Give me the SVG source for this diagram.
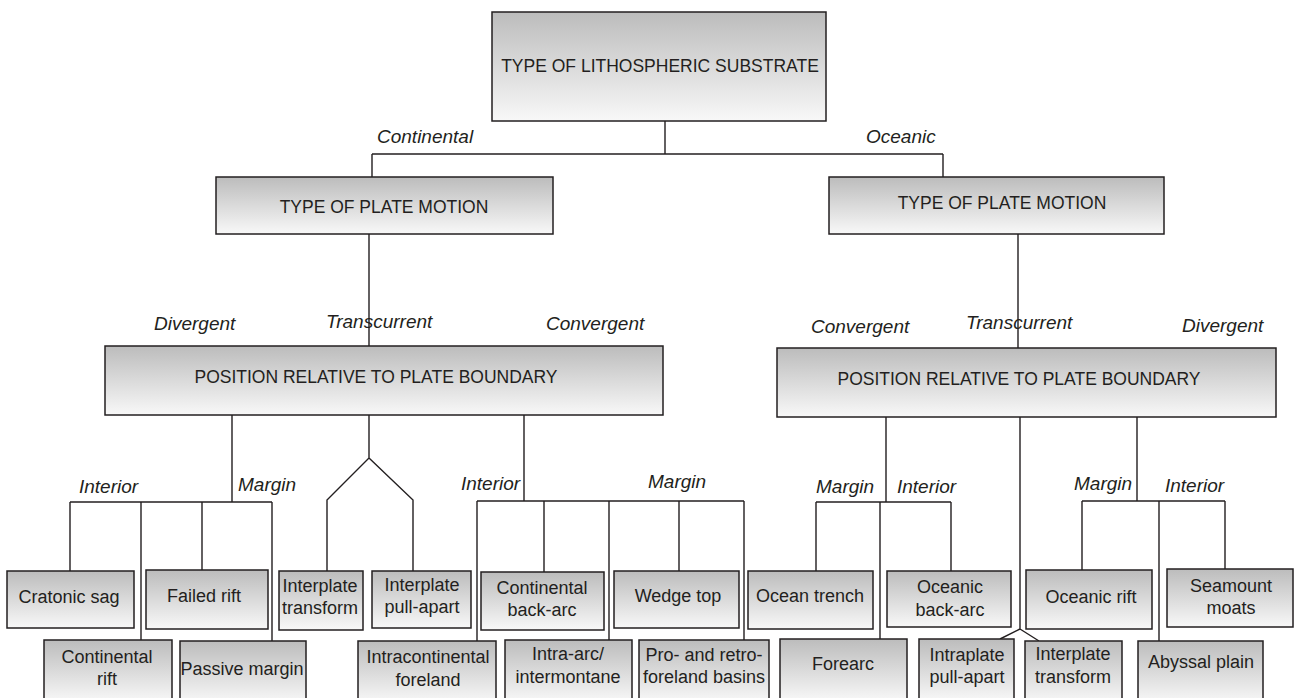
<svg xmlns="http://www.w3.org/2000/svg" width="1296" height="698" viewBox="0 0 1296 698">
<defs>
<linearGradient id="g" x1="0" y1="0" x2="0" y2="1">
<stop offset="0" stop-color="#bcbcbc"/>
<stop offset="1" stop-color="#f8f8f8"/>
</linearGradient>
</defs>
<style>
.b{fill:url(#g);stroke:#231f20;stroke-width:1.5}
.t{font-family:"Liberation Sans",Arial,sans-serif;font-size:17.5px;fill:#231f20;text-anchor:middle}
.n{font-family:"Liberation Sans",Arial,sans-serif;font-size:18px;fill:#231f20;text-anchor:middle}
.l{font-family:"Liberation Sans",Arial,sans-serif;font-size:19px;font-style:italic;fill:#231f20}
.c{fill:none;stroke:#231f20;stroke-width:1.4}
</style>
<rect width="1296" height="698" fill="#fff"/>
<g id="connectors" class="c">
<path d="M665,121V154M372,154H943M372,154V177M943,154V177"/>
<path d="M369,234V346M1018,234V348"/>
<path d="M232,415V502M70,502H272M70,502V571M141,502V640M202,502V570M272,502V641"/>
<path d="M369,415V458L327,500V571M369,458L413,500V571"/>
<path d="M524,415V501M477,501H744M477,501V641M544,501V572M609,501V640M679,501V571M744,501V640"/>
<path d="M886,417V502M816,502H951M816,502V571M880,502V639M951,502V571"/>
<path d="M1020,417V629L1000,639M1020,629L1039,641"/>
<path d="M1137,417V501M1082,501H1225M1082,501V570M1159,501V641M1225,501V569"/>
</g>
<g id="labels" class="l">
<text x="377" y="143">Continental</text>
<text x="866" y="143">Oceanic</text>
<text x="154" y="330">Divergent</text>
<text x="326" y="328">Transcurrent</text>
<text x="546" y="330">Convergent</text>
<text x="79" y="493">Interior</text>
<text x="238" y="491">Margin</text>
<text x="461" y="490">Interior</text>
<text x="648" y="488">Margin</text>
<text x="811" y="333">Convergent</text>
<text x="966" y="329">Transcurrent</text>
<text x="1182" y="332">Divergent</text>
<text x="816" y="493">Margin</text>
<text x="897" y="493">Interior</text>
<text x="1074" y="490">Margin</text>
<text x="1165" y="492">Interior</text>
</g>
<g id="top"><rect class="b" x="492" y="12" width="334" height="109"/><text class="t" x="660" y="72">TYPE OF LITHOSPHERIC SUBSTRATE</text></g>
<g id="tpmL"><rect class="b" x="216" y="177" width="337" height="57"/><text class="t" x="384" y="213">TYPE OF PLATE MOTION</text></g>
<g id="tpmR"><rect class="b" x="829" y="177" width="335" height="57"/><text class="t" x="1002" y="209">TYPE OF PLATE MOTION</text></g>
<g id="prbL"><rect class="b" x="105" y="346" width="558" height="69"/><text class="t" x="376" y="383">POSITION RELATIVE TO PLATE BOUNDARY</text></g>
<g id="prbR"><rect class="b" x="777" y="348" width="499" height="69"/><text class="t" x="1019" y="385">POSITION RELATIVE TO PLATE BOUNDARY</text></g>
<g id="cratonic"><rect class="b" x="7" y="571" width="127" height="57"/><text class="n" x="69" y="603">Cratonic sag</text></g>
<g id="failedRift"><rect class="b" x="146" y="570" width="122" height="59"/><text class="n" x="204" y="602">Failed rift</text></g>
<g id="contRift"><rect class="b" x="44" y="640" width="128" height="62"/><text class="n" x="107" y="663">Continental</text><text class="n" x="107" y="685">rift</text></g>
<g id="passive"><rect class="b" x="180" y="641" width="126" height="62"/><text class="n" x="242" y="675">Passive margin</text></g>
<g id="ipTransformL"><rect class="b" x="279" y="571" width="84" height="59"/><text class="n" x="320" y="592">Interplate</text><text class="n" x="320" y="614">transform</text></g>
<g id="ipPullApartL"><rect class="b" x="372" y="571" width="99" height="57"/><text class="n" x="422" y="591">Interplate</text><text class="n" x="422" y="613">pull-apart</text></g>
<g id="intracont"><rect class="b" x="358" y="641" width="138" height="62"/><text class="n" x="428" y="663">Intracontinental</text><text class="n" x="428" y="686">foreland</text></g>
<g id="contBackArc"><rect class="b" x="481" y="572" width="123" height="58"/><text class="n" x="542" y="594">Continental</text><text class="n" x="542" y="616">back-arc</text></g>
<g id="wedge"><rect class="b" x="614" y="571" width="125" height="57"/><text class="n" x="678" y="602">Wedge top</text></g>
<g id="intraArc"><rect class="b" x="505" y="640" width="127" height="62"/><text class="n" x="568" y="660">Intra-arc/</text><text class="n" x="568" y="683">intermontane</text></g>
<g id="proRetro"><rect class="b" x="639" y="640" width="130" height="62"/><text class="n" x="704" y="661">Pro- and retro-</text><text class="n" x="704" y="683">foreland basins</text></g>
<g id="oceanTrench"><rect class="b" x="748" y="571" width="125" height="58"/><text class="n" x="810" y="602">Ocean trench</text></g>
<g id="oceanicBackArc"><rect class="b" x="887" y="571" width="124" height="56"/><text class="n" x="950" y="593">Oceanic</text><text class="n" x="950" y="616">back-arc</text></g>
<g id="forearc"><rect class="b" x="780" y="639" width="127" height="62"/><text class="n" x="843" y="670">Forearc</text></g>
<g id="intraplatePA"><rect class="b" x="919" y="639" width="95" height="62"/><text class="n" x="967" y="661">Intraplate</text><text class="n" x="967" y="683">pull-apart</text></g>
<g id="ipTransformR"><rect class="b" x="1025" y="641" width="97" height="62"/><text class="n" x="1073" y="660">Interplate</text><text class="n" x="1073" y="683">transform</text></g>
<g id="oceanicRift"><rect class="b" x="1026" y="570" width="126" height="59"/><text class="n" x="1091" y="603">Oceanic rift</text></g>
<g id="seamount"><rect class="b" x="1167" y="569" width="126" height="58"/><text class="n" x="1231" y="592">Seamount</text><text class="n" x="1231" y="614">moats</text></g>
<g id="abyssal"><rect class="b" x="1138" y="641" width="125" height="62"/><text class="n" x="1201" y="668">Abyssal plain</text></g>
</svg>
